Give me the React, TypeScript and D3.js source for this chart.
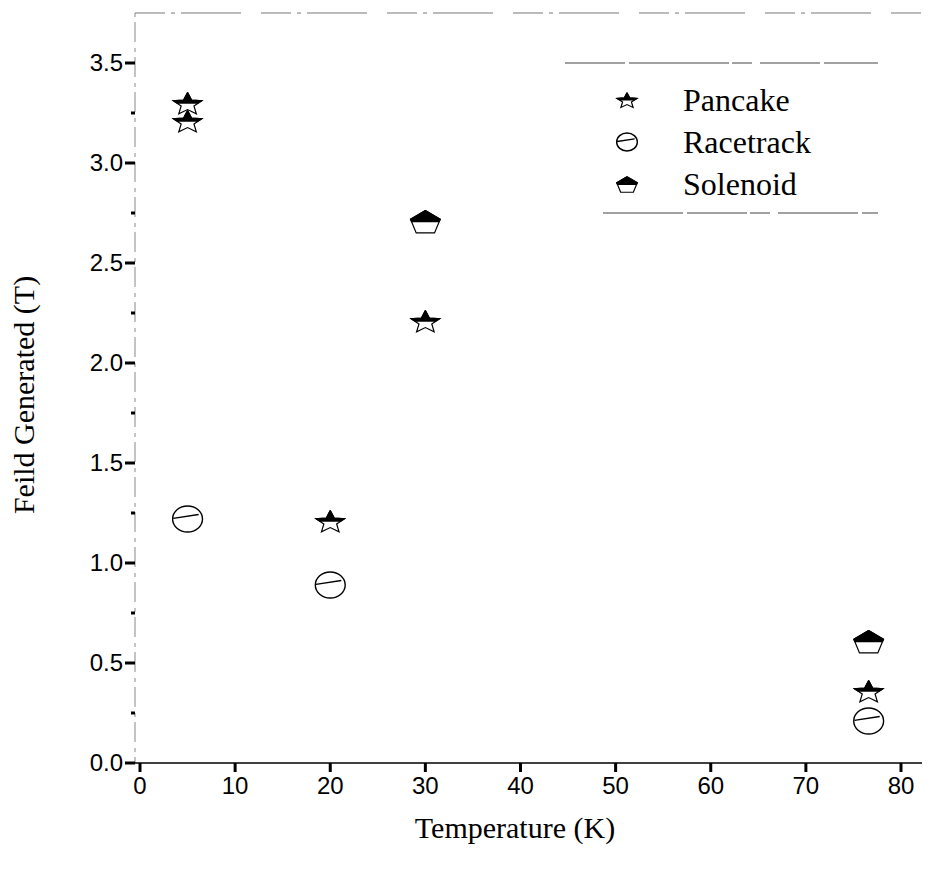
import React from "react";
import * as d3 from "d3";

// data
const pancakeT = [5, 5, 20, 30, 76.6];
const pancakeB = [3.3, 3.21, 1.21, 2.21, 0.36];
const racetrackT = [5, 20, 76.6];
const racetrackB = [1.22, 0.89, 0.21];
const solenoidT = [30, 76.6];
const solenoidB = [2.71, 0.61];

const xTicks = [0, 10, 20, 30, 40, 50, 60, 70, 80];
const yTicks = [0, 0.5, 1, 1.5, 2, 2.5, 3, 3.5];
const yMinor = [0.25, 0.75, 1.25, 1.75, 2.25, 2.75, 3.25];
const legendNames = ["Pancake", "Racetrack", "Solenoid"];

const W = 934;
const H = 876;

// star path, 5 points, squashed a little
function starPath(r: number) {
  const pts: [number, number][] = [];
  for (let i = 0; i < 10; i++) {
    const a = -Math.PI / 2 + (i * Math.PI) / 5;
    const rr = i % 2 === 0 ? r : r * 0.45;
    pts.push([Math.cos(a) * rr * 1.15, Math.sin(a) * rr * 0.9 + r * 0.1]);
  }
  return d3.line()(pts.concat([pts[0]])) as string;
}

function pentPath(r: number) {
  const pts: [number, number][] = [];
  for (let i = 0; i < 5; i++) {
    const a = -Math.PI / 2 + (i * 2 * Math.PI) / 5;
    pts.push([Math.cos(a) * r * 1.2, Math.sin(a) * r * 0.95 + r * 0.15]);
  }
  return d3.line()(pts.concat([pts[0]])) as string;
}

function Marker({ kind, x, y, r, id }: { kind: string; x: number; y: number; r: number; id: string }) {
  if (kind === "Racetrack") {
    return (
      <g transform={`translate(${x},${y})`}>
        <ellipse rx={r * 1.15} ry={r} fill="white" stroke="black" strokeWidth={1.4} />
        <line x1={-r * 1.1} y1={-r * 0.05} x2={r * 0.85} y2={-r * 0.35} stroke="black" strokeWidth={1.4} />
      </g>
    );
  }
  const d = kind === "Pancake" ? starPath(r) : pentPath(r);
  return (
    <g transform={`translate(${x},${y})`}>
      <clipPath id={id}>
        <rect x={-r * 2} y={-r * 2} width={r * 4} height={r * 2 + (kind === "Pancake" ? r * 0.05 : r * 0.1)} />
      </clipPath>
      <path d={d} fill="white" stroke="black" strokeWidth={1.2} />
      <path d={d} fill="black" stroke="black" strokeWidth={1.2} clipPath={`url(#${id})`} />
    </g>
  );
}

export default function App() {
  const left = 135;
  const x = d3.scaleLinear().domain([0, 80]).range([140, 901]);
  const y = d3.scaleLinear().domain([0, 3.5]).range([763, 63]);
  const sans = "'Liberation Sans', Arial, sans-serif";
  const serif = "'Liberation Serif', 'Times New Roman', serif";

  const series = [
    { name: "Pancake", t: pancakeT, b: pancakeB },
    { name: "Racetrack", t: racetrackT, b: racetrackB },
    { name: "Solenoid", t: solenoidT, b: solenoidB },
  ];

  return (
    <svg width={W} height={H} style={{ position: "absolute", left: 0, top: 0, background: "white" }}>
      <rect width={W} height={H} fill="white" />
      {/* frame: faint top and left lines */}
      <line x1={left} y1={13} x2={925} y2={13} stroke="#777" strokeWidth={1.2} strokeDasharray="30 6 4 6 60 20" />
      <line x1={left} y1={13} x2={left} y2={763} stroke="#888" strokeWidth={1} strokeDasharray="4 5 20 6" />
      <line x1={131} y1={763} x2={922} y2={763} stroke="black" strokeWidth={1.5} />

      {/* y axis */}
      {yTicks.map((v) => (
        <g key={v}>
          <line x1={left - 10} x2={left} y1={y(v)} y2={y(v)} stroke="black" strokeWidth={3} />
          <text x={left - 12} y={y(v)} dy="0.35em" textAnchor="end" fontFamily={sans} fontSize={24}>
            {v.toFixed(1)}
          </text>
        </g>
      ))}
      {yMinor.map((v) => (
        <line key={v} x1={left - 4} x2={left} y1={y(v)} y2={y(v)} stroke="black" strokeWidth={3} />
      ))}

      {/* x axis */}
      {xTicks.map((v) => (
        <g key={v}>
          <line x1={x(v)} x2={x(v)} y1={763} y2={772} stroke="black" strokeWidth={3} />
          <text x={x(v)} y={786} dy="0.35em" textAnchor="middle" fontFamily={sans} fontSize={24}>
            {v}
          </text>
        </g>
      ))}

      <text x={515} y={838} textAnchor="middle" fontFamily={serif} fontSize={30}>
        Temperature (K)
      </text>
      <text transform="translate(34,395) rotate(-90)" textAnchor="middle" fontFamily={serif} fontSize={30}>
        Feild Generated (T)
      </text>

      {/* points */}
      {series.map((s) =>
        s.t.map((t, i) => (
          <Marker key={s.name + i} id={`c-${s.name}-${i}`} kind={s.name} x={x(t)} y={y(s.b[i])} r={13} />
        ))
      )}

      {/* legend */}
      <line x1={565} x2={878} y1={63} y2={63} stroke="#444" strokeWidth={1.2} strokeDasharray="60 4 100 3 20 8" />
      <line x1={603} x2={878} y1={213} y2={213} stroke="#444" strokeWidth={1.2} strokeDasharray="80 4 60 3 20 8" />
      {legendNames.map((n, i) => (
        <g key={n}>
          <Marker id={`lg-${n}`} kind={n} x={627} y={100 + i * 42} r={9} />
          <text x={683} y={100 + i * 42} dy="0.35em" fontFamily={serif} fontSize={32}>
            {n}
          </text>
        </g>
      ))}
    </svg>
  );
}
